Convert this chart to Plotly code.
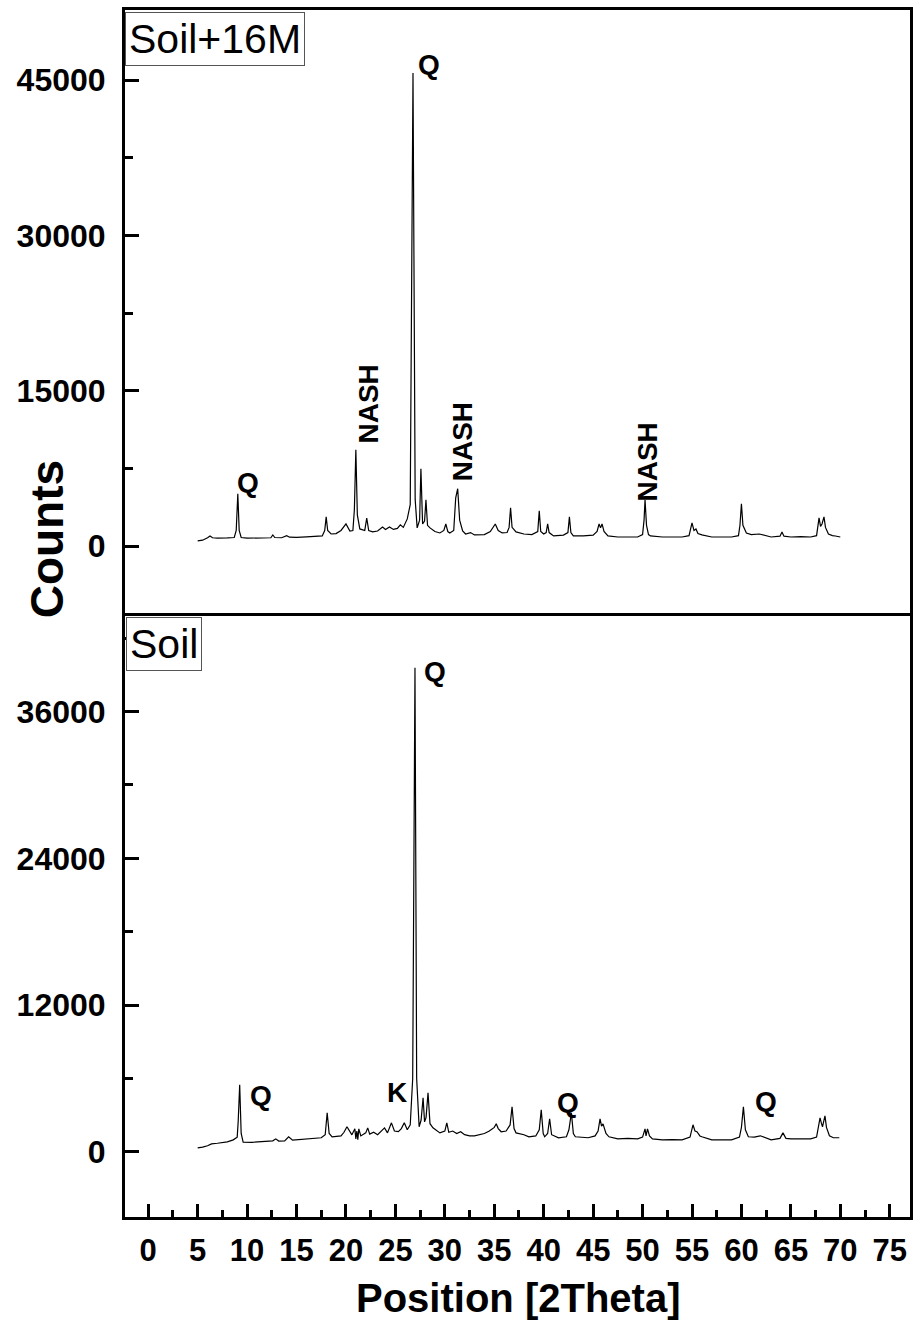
import plotly.graph_objects as go

# ---- Soil + 16M NaOH (upper pattern) ----
theta_16m = [
    5.0, 5.5, 6.0, 6.25, 6.5, 7.0, 8.0, 8.7, 8.9, 9.06, 9.2, 9.4, 10.0, 11.5, 12.4, 12.6, 12.8,
    13.5, 14.0, 14.3, 15.0, 16.0, 17.0, 17.6, 17.85, 18.0, 18.15, 18.5, 19.0, 19.5, 20.0, 20.4,
    20.7, 20.85, 21.0, 21.15, 21.4, 21.9, 22.1, 22.3, 22.7, 23.2, 23.7, 24.0, 24.4, 24.8, 25.2,
    25.5, 25.8, 26.2, 26.5, 26.78, 27.0, 27.2, 27.45, 27.58, 27.75, 27.95, 28.09, 28.25, 28.5,
    29.0, 29.5, 29.9, 30.1, 30.3, 30.5, 30.9, 31.1, 31.3, 31.5, 31.8, 32.1, 32.6, 33.0, 34.0,
    34.6, 35.1, 35.4, 35.8, 36.3, 36.5, 36.65, 36.8, 37.2, 38.0, 38.8, 39.4, 39.55, 39.7, 40.0,
    40.25, 40.4, 40.55, 41.0, 42.0, 42.45, 42.6, 42.75, 43.0, 44.0, 45.0, 45.4, 45.6, 45.75,
    45.9, 46.1, 46.5, 47.5, 48.5, 49.5, 50.0, 50.15, 50.25, 50.4, 50.6, 50.8, 52.0, 53.0, 54.0,
    54.7, 54.85, 55.0, 55.2, 55.4, 55.6, 56.0, 57.0, 58.0, 59.0, 59.7, 59.85, 60.0, 60.15, 60.5,
    61.0, 61.8, 62.5, 63.0, 63.9, 64.1, 64.3, 65.0, 66.0, 67.0, 67.6, 67.75, 67.85, 68.0, 68.15,
    68.35, 68.5, 68.8, 69.2, 69.5, 70.0,
]
counts_16m = [
    500, 560, 800, 970, 800, 760, 780, 820, 1500, 5050, 1500, 820, 760, 760, 800, 1070, 820,
    800, 1000, 850, 830, 880, 920, 970, 1500, 2810, 1500, 1160, 1200, 1500, 2130, 1450,
    1500, 3500, 9300, 3000, 1650, 1500, 2700, 1500, 1360, 1450, 1840, 1600, 1840, 1600, 1700,
    2040, 1800, 2620, 4000, 45680, 4500, 1750, 2500, 7470, 2130, 2400, 4460, 2000, 1750,
    1400, 1260, 1500, 2130, 1400, 1260, 1500, 4660, 5530, 2500, 1450, 1160, 1300, 1070, 1100,
    1400, 2130, 1500, 1260, 1300, 1800, 3690, 1800, 1360, 1160, 1100, 1400, 3390, 1400, 1160,
    1300, 2130, 1300, 970, 1050, 1300, 2810, 1300, 970, 970, 1050, 1400, 2130, 1750,
    2130, 1400, 970, 870, 900, 870, 1100, 2500, 4460, 2000, 1100, 970, 870, 900, 870,
    1000, 1600, 2230, 1500, 1650, 1200, 1070, 870, 900, 870, 1000, 2000, 4070, 2000, 1260,
    1100, 1160, 970, 870, 950, 1360, 950, 870, 900, 870, 1000, 1800, 2720, 1900, 2130,
    2810, 1800, 1160, 1000, 970, 870,
]

# ---- Raw soil (lower pattern) ----
theta_soil = [
    5.0, 5.5, 6.0, 6.4, 7.0, 8.0, 8.6, 9.0, 9.1, 9.25, 9.4, 9.6, 10.5, 11.9, 12.6, 12.9, 13.2,
    13.8, 14.2, 14.6, 15.0, 16.0, 17.0, 17.5, 17.9, 18.1, 18.3, 18.6, 19.5, 19.8, 20.1, 20.4,
    20.6, 20.9, 21.0, 21.1, 21.2, 21.3, 21.5, 22.0, 22.2, 22.4, 22.8, 23.2, 23.6, 23.9, 24.2,
    24.6, 24.9, 25.3, 25.6, 25.9, 26.2, 26.5, 26.75, 26.98, 27.15, 27.4, 27.6, 27.8, 27.95,
    28.1, 28.3, 28.5, 28.8, 29.5, 30.0, 30.2, 30.4, 30.8, 31.2, 31.6, 32.0, 32.5, 33.0, 33.5,
    34.0, 34.5, 35.0, 35.2, 35.4, 35.7, 36.2, 36.6, 36.8, 37.0, 37.2, 38.0, 38.5, 39.2, 39.55,
    39.75, 39.95, 40.1, 40.4, 40.6, 40.8, 41.5, 42.3, 42.55, 42.8, 43.0, 43.2, 44.5, 45.2, 45.5,
    45.7, 45.85, 46.0, 46.3, 46.6, 47.5, 48.5, 49.5, 50.0, 50.25, 50.35, 50.5, 50.7, 51.0, 52.0,
    53.0, 54.0, 54.8, 55.1, 55.3, 55.5, 55.8, 56.0, 57.0, 58.0, 59.0, 59.8, 60.0, 60.2, 60.4,
    60.7, 61.3, 61.9, 62.5, 63.0, 63.9, 64.2, 64.5, 65.0, 66.0, 67.0, 67.6, 67.8, 67.95, 68.1,
    68.2, 68.3, 68.45, 68.6, 68.9, 69.3, 69.9,
]
counts_soil = [
    330, 380, 500, 650, 700, 820, 980, 1200, 2500, 5480, 1500, 800, 780, 820, 900, 1060, 880,
    900, 1230, 950, 980, 1000, 1080, 1150, 1400, 3190, 1500, 1230, 1300, 1600, 2050, 1600,
    1390, 1880, 1060, 1700, 1000, 1880, 1300, 1550, 1960, 1450, 1600, 1400, 1700, 1960, 1550,
    2370, 1700, 1650, 1900, 2370, 1800, 2200, 6000, 39590, 6000, 2050, 2600, 4410, 2450,
    2800, 4830, 2300, 1960, 1550, 1700, 2370, 1600, 1700, 1500, 1640, 1400, 1310, 1310, 1400,
    1500, 1700, 2000, 2290, 1900, 1640, 1700, 2200, 3680, 1900, 1550, 1400, 1230, 1300, 1800,
    3430, 1500, 1230, 1500, 2700, 1400, 1150, 1230, 1800, 3190, 1500, 1230, 1150, 1300, 1700,
    2700, 2100, 2290, 1500, 1230, 1060, 1100, 1060, 1200, 1880, 1300, 1880, 1300, 1060, 980,
    1000, 980, 1200, 2210, 1700, 1640, 1300, 1230, 980, 1000, 980, 1200, 2000, 3680, 1800,
    1230, 1200, 1310, 1100, 980, 1100, 1550, 1100, 1060, 1060, 1060, 1200, 2000, 2780, 2300,
    2050, 2400, 2940, 2000, 1310, 1150, 1150,
]

# Phase labels: (text, 2theta, counts, rotated)
labels_16m = [
    ("Q", 10.07, 6110, False),
    ("Q", 28.39, 46460, False),
    ("NASH", 22.25, 13680, True),
    ("NASH", 31.81, 10090, True),
    ("NASH", 50.54, 8150, True),
]
labels_soil = [
    ("Q", 11.38, 4580, False),
    ("K", 25.17, 4830, False),
    ("Q", 28.99, 39260, False),
    ("Q", 42.48, 4010, False),
    ("Q", 62.52, 4090, False),
]

x_ticks = list(range(0, 80, 5))
y_ticks_16m = [0, 15000, 30000, 45000]
y_ticks_soil = [0, 12000, 24000, 36000]

W, H = 916, 1321
ML, MR, MT, MB = 125, 3, 10, 104
PW, PH = W - ML - MR, H - MT - MB

FONT = "Arial, Liberation Sans, sans-serif"
X_RANGE = [-2.35, 77.05]


def paper_x(px):
    return (px - ML) / PW


def paper_y(py):
    return (H - MB - py) / PH


fig = go.Figure()
fig.add_trace(go.Scatter(x=theta_16m, y=counts_16m, mode="lines",
                         line=dict(color="black", width=1.2), xaxis="x2", yaxis="y2",
                         showlegend=False, hoverinfo="skip"))
fig.add_trace(go.Scatter(x=theta_soil, y=counts_soil, mode="lines",
                         line=dict(color="black", width=1.2), xaxis="x", yaxis="y",
                         showlegend=False, hoverinfo="skip"))

frame = dict(showline=True, linecolor="black", linewidth=3, mirror=True,
             showgrid=False, zeroline=False)
tickfont = dict(family=FONT, size=32, color="black", weight="bold")

fig.update_layout(
    width=W, height=H,
    margin=dict(l=ML, r=MR, t=MT, b=MB),
    paper_bgcolor="white", plot_bgcolor="white",
    xaxis=dict(**frame, range=X_RANGE, domain=[0, 1], anchor="y",
               tickmode="array", tickvals=x_ticks, ticktext=[str(v) for v in x_ticks],
               ticks="inside", ticklen=13, tickwidth=3,
               tickcolor="black", minor=dict(dtick=2.5, tick0=0, ticks="inside", ticklen=7,
                                             tickwidth=2.5, tickcolor="black"),
               tickfont=dict(family=FONT, size=31, color="black", weight="bold"),
               ticklabelstandoff=4),
    yaxis=dict(**frame, range=[-5330, 43860], domain=[0, paper_y(615.5)], anchor="x",
               tickmode="array", tickvals=y_ticks_soil,
               ticktext=[str(v) for v in y_ticks_soil], ticks="inside", ticklen=14,
               tickwidth=3, tickcolor="black",
               minor=dict(dtick=6000, tick0=0, ticks="inside", ticklen=8, tickwidth=2.5,
                          tickcolor="black"),
               tickfont=tickfont, ticklabelstandoff=10),
    xaxis2=dict(**frame, range=X_RANGE, domain=[0, 1], anchor="y2", matches="x",
                showticklabels=False, ticks=""),
    yaxis2=dict(**frame, range=[-6420, 51760], domain=[paper_y(612.5), 1], anchor="x2",
                tickmode="array", tickvals=y_ticks_16m,
                ticktext=[str(v) for v in y_ticks_16m], ticks="inside", ticklen=14,
                tickwidth=3, tickcolor="black",
                minor=dict(dtick=7500, tick0=0, ticks="inside", ticklen=8, tickwidth=2.5,
                           tickcolor="black"),
                tickfont=tickfont, ticklabelstandoff=10),
)

ann_font = dict(family=FONT, size=28, color="black", weight="bold")
for text, x, y, rot in labels_16m:
    fig.add_annotation(x=x, y=y, xref="x2", yref="y2", text=text, showarrow=False,
                       font=ann_font, textangle=-90 if rot else 0,
                       xanchor="center", yanchor="middle")
for text, x, y, rot in labels_soil:
    fig.add_annotation(x=x, y=y, xref="x", yref="y", text=text, showarrow=False,
                       font=ann_font, textangle=-90 if rot else 0,
                       xanchor="center", yanchor="middle")

# Sample name boxes
box_font = dict(family=FONT, size=41, color="black")
fig.add_annotation(x=paper_x(125), y=paper_y(12), xref="paper", yref="paper",
                   text="Soil+16M", showarrow=False, font=box_font,
                   xanchor="left", yanchor="top", bordercolor="#555555", borderwidth=1,
                   borderpad=3, bgcolor="white")
fig.add_annotation(x=paper_x(126), y=paper_y(617), xref="paper", yref="paper",
                   text="Soil", showarrow=False, font=box_font,
                   xanchor="left", yanchor="top", bordercolor="#555555", borderwidth=1,
                   borderpad=3, bgcolor="white")

# Axis titles
fig.add_annotation(x=paper_x(47), y=paper_y(539), xref="paper", yref="paper",
                   text="Counts", showarrow=False, textangle=-90,
                   font=dict(family=FONT, size=46, color="black", weight="bold"),
                   xanchor="center", yanchor="middle")
fig.add_annotation(x=paper_x(520), y=paper_y(1298), xref="paper", yref="paper",
                   text="Position [2Theta]", showarrow=False,
                   font=dict(family=FONT, size=40, color="black", weight="bold"),
                   xanchor="center", yanchor="middle")

fig.write_html("out.html")
